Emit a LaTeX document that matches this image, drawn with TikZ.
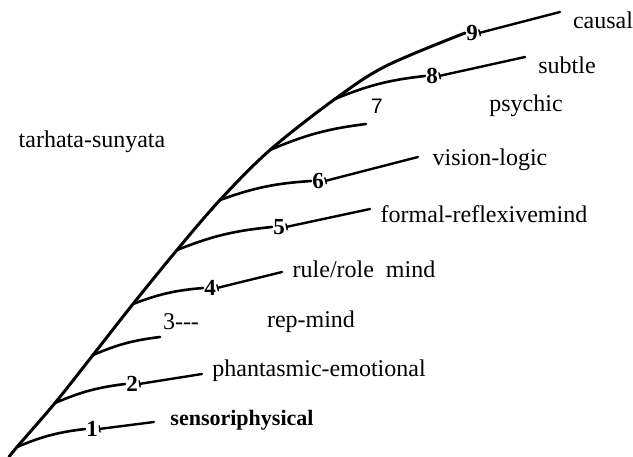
\documentclass[tikz,border=0pt]{standalone}
\usepackage{fontspec}
\setmainfont{Liberation Serif}
\newfontfamily\numsans{Liberation Sans}
\usetikzlibrary{arrows.meta}
\begin{document}
\begin{tikzpicture}[x=1pt,y=-1pt,
  trunk/.style={line width=3pt,line cap=round,line join=round},
  branch/.style={line width=2.6pt,line cap=round,bend left=8},
  tail/.style={line width=2.4pt,line cap=round,{Bar[width=7pt,line width=1.4pt]}-},
  lbl/.style={inner sep=0pt,font=\fontsize{24}{28}\selectfont},
  num/.style={inner sep=1pt,font=\fontsize{23}{26}\selectfont\bfseries}]
\useasboundingbox (0,0) rectangle (633,457);
% trunk points
\coordinate (p0) at (9,457);
\coordinate (p1) at (17,447);
\coordinate (p2) at (55,403);
\coordinate (p3) at (93,355);
\coordinate (p4) at (133,304);
\coordinate (p5) at (177,250);
\coordinate (p6) at (220,200);
\coordinate (p7) at (270,150);
\coordinate (p8) at (335,99);
\coordinate (q9) at (386,66);
% numbers
\node[num] (n1) at (92,429) {1};
\node[num] (n2) at (132,384) {2};
\node[num] (n4) at (210,288) {4};
\node[num] (n5) at (279,227) {5};
\node[num] (n6) at (318,181) {6};
\node[num] (n8) at (432,76) {8};
\node[num] (n9) at (472,33) {9};
\node[inner sep=0pt,font=\fontsize{21}{24}\selectfont\numsans] (n7) at (377,106) {7};
\node[lbl] (n3) at (181,322) {3{-}{-}{-}};
% ends
\coordinate (e1) at (154,422);
\coordinate (e2) at (202,374);
\coordinate (c3) at (160,337);
\coordinate (e4) at (282,272);
\coordinate (e5) at (370,209);
\coordinate (e6) at (418,157);
\coordinate (c7) at (366,124);
\coordinate (e8) at (525,57);
\coordinate (e9) at (560,12);
% labels
\node[lbl] (causal) at (603,20) {causal};
\node[lbl] (subtle) at (567,65) {subtle};
\node[lbl] (psychic) at (526,106) {psychic};
\node[lbl] (vision) at (490,160) {vision-logic};
\node[lbl] (formal) at (484,214) {formal-reflexivemind};
\node[lbl] (rule) at (364,269) {rule/role\ \ mind};
\node[lbl] (rep) at (311,322) {rep-mind};
\node[lbl] (phan) at (319,371) {phantasmic-emotional};
\node[inner sep=0pt,font=\fontsize{22}{26}\selectfont\bfseries] (sens) at (242,420) {sensoriphysical};
\node[lbl] (tarhata) at (92,142) {tarhata-sunyata};
% trunk
\draw[trunk] plot[smooth,tension=0.55] coordinates {(p0) (p1) (p2) (p3) (p4) (p5) (p6) (p7) (p8) (q9) (n9.west)};
% branches
\draw[branch] (p1) to (n1.west);
\draw[branch] (p2) to (n2.west);
\draw[branch] (p3) to (c3);
\draw[branch] (p4) to (n4.west);
\draw[branch] (p5) to (n5.west);
\draw[branch] (p6) to (n6.west);
\draw[branch] (p7) to (c7);
\draw[branch] (p8) to (n8.west);
% tails
\draw[tail] (n1.east) -- (e1);
\draw[tail] (n2.east) -- (e2);
\draw[tail] (n4.east) -- (e4);
\draw[tail] (n5.east) -- (e5);
\draw[tail] (n6.east) -- (e6);
\draw[tail] (n8.east) -- (e8);
\draw[tail] (n9.east) -- (e9);
\end{tikzpicture}
\end{document}
